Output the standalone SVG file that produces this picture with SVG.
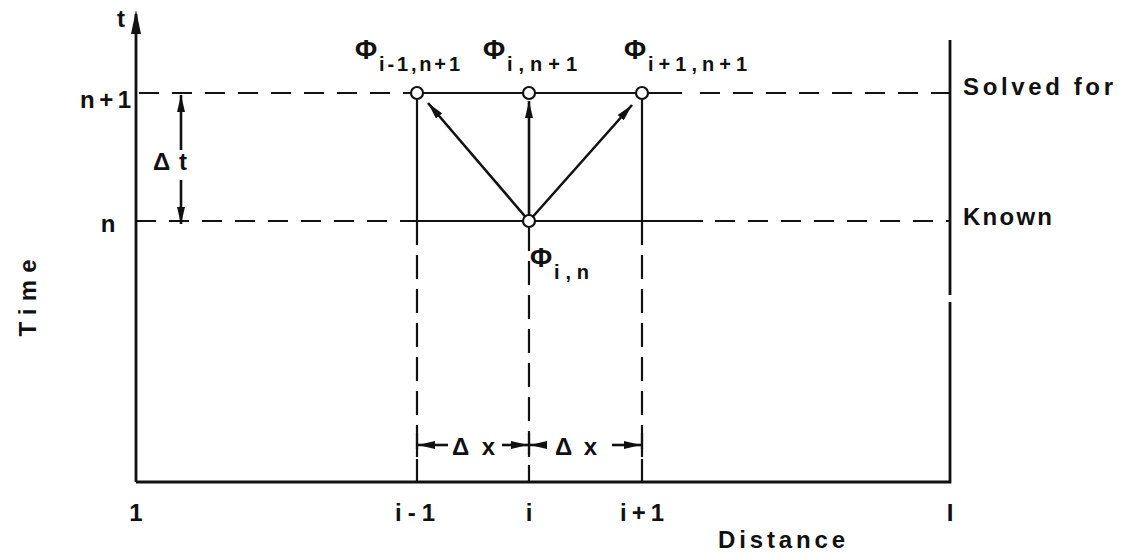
<svg xmlns="http://www.w3.org/2000/svg" width="1124" height="553" viewBox="0 0 1124 553">
<defs>
<style>
.ax{stroke:#111;stroke-width:2.8;fill:none}
.ln{stroke:#111;stroke-width:2.2;fill:none}
.ds{stroke:#111;stroke-width:2.2;fill:none;stroke-dasharray:20 13}
.dv{stroke:#111;stroke-width:2.2;fill:none;stroke-dasharray:24 10}
.ar{stroke:#111;stroke-width:2.6;fill:none;marker-end:url(#ah)}
.nd{fill:#fff;stroke:#111;stroke-width:2.2}
text{font-family:"Liberation Sans",Arial,sans-serif;fill:#111;font-weight:bold}
.lb{font-size:24px}
.ph{font-size:27px}
.sb{font-size:20px}
</style>
<marker id="ah" viewBox="0 0 17 8" refX="17" refY="4" markerWidth="17" markerHeight="8" markerUnits="userSpaceOnUse" orient="auto"><path d="M0,0 L17,4 L0,8 z" fill="#111"/></marker>
</defs>
<rect width="1124" height="553" fill="#fff"/>
<g id="axes">
<line class="ax" x1="136" y1="482" x2="136" y2="14"/>
<path d="M131,34 L136,10 L141,34 z" fill="#111"/>
<polyline class="ax" points="136,482 950,482 950,302"/>
<line class="ax" x1="950" y1="295" x2="950" y2="40"/>
</g>
<g id="connectors">
<line class="ds" x1="139" y1="93" x2="411" y2="93"/>
<line class="ln" x1="411" y1="93" x2="682" y2="93"/>
<line class="ds" x1="700" y1="93" x2="950" y2="93"/>
<line class="ds" x1="136" y1="221" x2="400" y2="221"/>
<line class="ln" x1="400" y1="221" x2="703" y2="221"/>
<line class="ds" x1="715" y1="221" x2="950" y2="221"/>
<line class="ln" x1="417" y1="93" x2="417" y2="221"/>
<line class="ln" x1="642" y1="93" x2="642" y2="221"/>
<line class="dv" x1="417" y1="221" x2="417" y2="482"/>
<line class="dv" x1="529" y1="227" x2="529" y2="482"/>
<line class="dv" x1="642" y1="221" x2="642" y2="482"/>
<line class="ln" x1="417" y1="433" x2="417" y2="457"/>
<line class="ln" x1="529" y1="433" x2="529" y2="457"/>
<line class="ln" x1="642" y1="433" x2="642" y2="457"/>
<line class="ar" x1="529" y1="221" x2="428" y2="103"/>
<line class="ar" x1="529" y1="215" x2="529" y2="101"/>
<line class="ar" x1="529" y1="221" x2="632" y2="105"/>
<line class="ar" x1="181" y1="150" x2="181" y2="95"/>
<line class="ar" x1="181" y1="180" x2="181" y2="224"/>
<line class="ar" x1="448" y1="445" x2="418" y2="445"/>
<line class="ar" x1="502" y1="445" x2="528" y2="445"/>
<line class="ar" x1="547" y1="445" x2="530" y2="445"/>
<line class="ar" x1="612" y1="445" x2="641" y2="445"/>
</g>
<g id="node-i-1-n1"><circle class="nd" cx="417" cy="93" r="6"/></g>
<g id="node-i-n1"><circle class="nd" cx="529" cy="93" r="6"/></g>
<g id="node-i1-n1"><circle class="nd" cx="642" cy="93" r="6"/></g>
<g id="node-i-n"><circle class="nd" cx="529" cy="221" r="6"/></g>
<g id="labels">
<text class="lb" x="121" y="27" text-anchor="middle">t</text>
<text class="lb" x="80" y="108" textLength="51" lengthAdjust="spacing">n + 1</text>
<text class="lb" x="108" y="232" text-anchor="middle">n</text>
<text class="lb" x="153" y="170" textLength="34" lengthAdjust="spacing">Δ t</text>
<text class="lb" transform="translate(36,298) rotate(-90)" text-anchor="middle" textLength="77" lengthAdjust="spacing">Time</text>
<text class="ph" x="355" y="59">Φ</text>
<text class="sb" x="379" y="71" textLength="81" lengthAdjust="spacing">i-1,n+1</text>
<text class="ph" x="483" y="59">Φ</text>
<text class="sb" x="507" y="71" textLength="70" lengthAdjust="spacing">i,n+1</text>
<text class="ph" x="624" y="59">Φ</text>
<text class="sb" x="648" y="71" textLength="99" lengthAdjust="spacing">i+1,n+1</text>
<text class="ph" x="530" y="267">Φ</text>
<text class="sb" x="554" y="279" textLength="35" lengthAdjust="spacing">i,n</text>
<text class="lb" x="963" y="95" textLength="150" lengthAdjust="spacing">Solved for</text>
<text class="lb" x="963" y="225" textLength="89" lengthAdjust="spacing">Known</text>
<text class="lb" x="452" y="455" textLength="43" lengthAdjust="spacing">Δ x</text>
<text class="lb" x="555" y="455" textLength="42" lengthAdjust="spacing">Δ x</text>
<text class="lb" x="136" y="521" text-anchor="middle">1</text>
<text class="lb" x="415" y="521" text-anchor="middle" textLength="40" lengthAdjust="spacing">i-1</text>
<text class="lb" x="529" y="521" text-anchor="middle">i</text>
<text class="lb" x="642" y="521" text-anchor="middle" textLength="44" lengthAdjust="spacing">i+1</text>
<text class="lb" x="950" y="521" text-anchor="middle">I</text>
<text class="lb" x="718" y="548" textLength="127" lengthAdjust="spacing">Distance</text>
</g>
</svg>
